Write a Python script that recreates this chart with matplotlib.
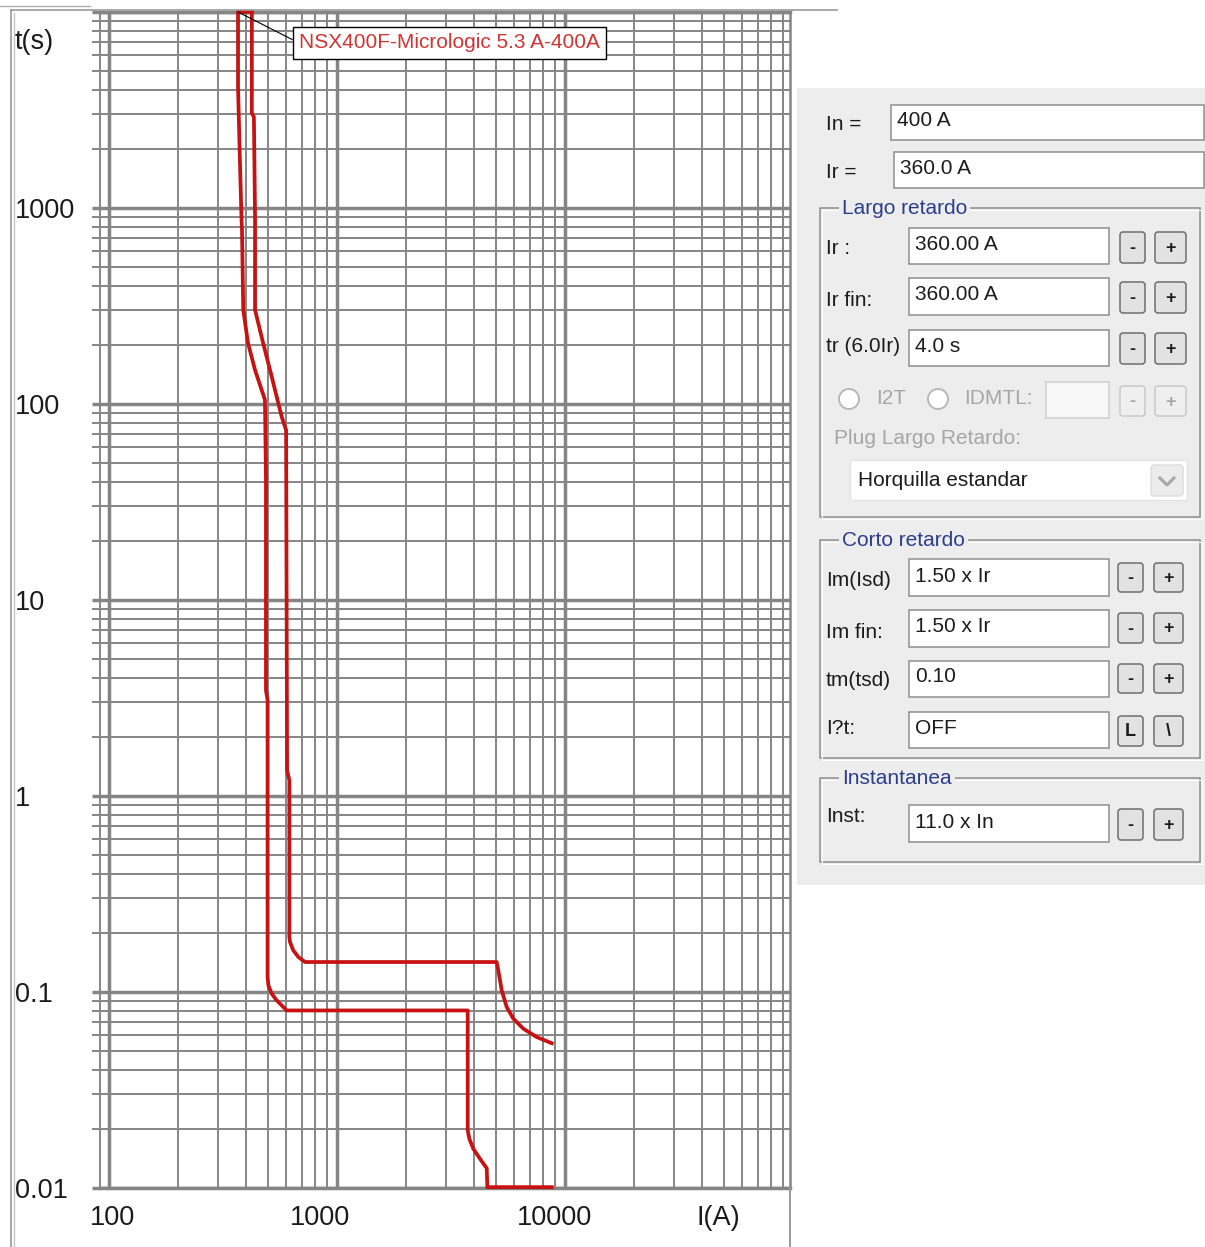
import numpy as np
import matplotlib
matplotlib.use('Agg')
import matplotlib.pyplot as plt
from matplotlib.patches import Rectangle, FancyBboxPatch, Circle
from matplotlib.lines import Line2D
from matplotlib.ticker import FixedLocator, LogLocator, NullFormatter, FixedFormatter
import matplotlib.transforms as mtransforms

plt.rcParams['font.family'] = ['Liberation Sans', 'DejaVu Sans']

# ---------------- data ----------------
curve_label = "NSX400F-Micrologic 5.3 A-400A"

# lower (minimum) tripping curve
lower_I = [368, 368, 375, 381, 383, 388, 407, 437, 483, 488, 488, 496, 496, 500, 517, 544, 602,
           3743, 3743, 3805, 3961, 4239, 4536, 4563, 8744]
lower_t = [10000, 4147, 1758, 899, 772, 302, 205, 149, 105, 40.9, 3.46, 3.08, 0.119, 0.1081,
           0.098, 0.0906, 0.0805, 0.0805, 0.0197, 0.01783, 0.01585, 0.01409, 0.0126, 0.0101, 0.0101]

# upper (maximum) tripping curve
upper_I = [423, 423, 432, 437, 437, 474, 517, 572, 598, 604, 618, 618, 622, 643, 677, 724,
           5016, 5099, 5278, 5551, 5932, 6564, 7513, 8744]
upper_t = [10000, 3054, 2914, 899, 302, 205, 138, 86.0, 73.6, 1.353, 1.203, 0.1907, 0.1798,
           0.1631, 0.1508, 0.1422, 0.1422, 0.1289, 0.1019, 0.0837, 0.0731, 0.0650, 0.0589, 0.0548]

x_ticks = [100, 1000, 10000]
x_tick_labels = ["100", "1000", "10000"]
y_ticks = [0.01, 0.1, 1, 10, 100, 1000, 10000]
y_tick_labels = ["0.01", "0.1", "1", "10", "100", "1000", ""]
x_axis_label = "I(A)"
y_axis_label = "t(s)"

# settings panel texts
top_fields = [("In =", "400 A"), ("Ir =", "360.0 A")]
largo_title = "Largo retardo"
largo_fields = [("Ir :", "360.00 A"), ("Ir fin:", "360.00 A"), ("tr (6.0Ir)", "4.0 s")]
radio_labels = ["I2T", "IDMTL:"]
plug_label = "Plug Largo Retardo:"
plug_value = "Horquilla estandar"
corto_title = "Corto retardo"
corto_fields = [("Im(Isd)", "1.50 x Ir"), ("Im fin:", "1.50 x Ir"), ("tm(tsd)", "0.10"), ("I?t:", "OFF")]
inst_title = "Instantanea"
inst_fields = [("Inst:", "11.0 x In")]

# ---------------- figure ----------------
W, H = 1205, 1247
fig = plt.figure(figsize=(W / 100, H / 100), dpi=100)
fig.patch.set_facecolor('white')

def fx(px):
    return px / W

def fy(py):
    return 1 - py / H

ax = fig.add_axes([fx(100), fy(1188), fx(790) - fx(100), fy(12) - fy(1188)])
ax.set_xscale('log')
ax.set_yscale('log')
ax.set_xlim(91.3, 97000)
ax.set_ylim(0.01, 10000)

GRID = '#858585'
ax.xaxis.set_major_locator(FixedLocator(x_ticks))
ax.xaxis.set_minor_locator(LogLocator(base=10, subs=np.arange(2, 10), numticks=100))
ax.xaxis.set_major_formatter(NullFormatter())
ax.xaxis.set_minor_formatter(NullFormatter())
ax.yaxis.set_major_locator(FixedLocator(y_ticks))
ax.yaxis.set_major_formatter(FixedFormatter(y_tick_labels))
ax.yaxis.set_minor_locator(LogLocator(base=10, subs=np.arange(2, 10), numticks=100))
ax.yaxis.set_minor_formatter(NullFormatter())

ax.grid(which='major', color=GRID, lw=2.5)
ax.grid(which='minor', color=GRID, lw=1.4)
ax.set_axisbelow(True)
ax.tick_params(axis='x', which='both', length=0)
ax.tick_params(axis='y', which='major', length=5.8, width=2.5, color=GRID,
               pad=55.4, labelsize=19.5, labelcolor='#1a1a1a')
ax.tick_params(axis='y', which='minor', length=5.8, width=1.4, color=GRID)
for lab in ax.get_yticklabels():
    lab.set_horizontalalignment('left')
for side, lw in [('left', 1.4), ('right', 1.8), ('top', 2.5), ('bottom', 2.5)]:
    ax.spines[side].set_color(GRID)
    ax.spines[side].set_linewidth(lw)

# x labels placed under their decade lines
xl_offsets = [3, -17, -11]
for v, s, dx in zip(x_ticks, x_tick_labels, xl_offsets):
    tr = mtransforms.blended_transform_factory(ax.transData, ax.transAxes) + \
        mtransforms.ScaledTranslation(dx / 100, -30 / 100, fig.dpi_scale_trans)
    ax.text(v, 0, s, transform=tr, ha='center', va='center', fontsize=19.5,
            color='#1a1a1a', clip_on=False)
ax.text((718 - 100) / 690, 0, x_axis_label,
        transform=ax.transAxes + mtransforms.ScaledTranslation(0, -30 / 100, fig.dpi_scale_trans),
        ha='center', va='center', fontsize=19.5, color='#1a1a1a', clip_on=False)
fig.text(fx(15), fy(42), y_axis_label, ha='left', va='center', fontsize=19.5, color='#1a1a1a')

RED = '#c81212'
ax.plot(lower_I, lower_t, color=RED, lw=2.7, solid_joinstyle='round', zorder=4, clip_on=False)
ax.plot(upper_I, upper_t, color=RED, lw=2.7, solid_joinstyle='round', zorder=4, clip_on=False)
ax.plot([lower_I[0], upper_I[0]], [lower_t[0], upper_t[0]], color=RED, lw=2.7, zorder=4, clip_on=False)

ax.annotate(curve_label, xy=(lower_I[0], lower_t[0]), xycoords='data',
            xytext=((299 - 100) / 690, (1188 - 43) / 1176), textcoords='axes fraction',
            ha='left', va='center', fontsize=15, color='#d03535',
            bbox=dict(boxstyle='square,pad=0.3', fc='white', ec='black', lw=1),
            arrowprops=dict(arrowstyle='-', color='black', lw=0.8, relpos=(0, 0.5),
                            shrinkA=0, shrinkB=0), zorder=6, annotation_clip=False)

# ---------------- overlay (frame + panel) ----------------
ui = fig.add_axes([0, 0, 1, 1])
ui.set_xlim(0, W)
ui.set_ylim(H, 0)
ui.axis('off')
ui.patch.set_alpha(0)

FRAME = '#9a9a9a'
ui.add_line(Line2D([11, 837], [10, 10], color=FRAME, lw=1.2))
ui.add_line(Line2D([0, 90], [6, 6], color='#b0b0b0', lw=1.0))
ui.add_line(Line2D([11, 11], [10, H], color=FRAME, lw=1.2))
ui.add_line(Line2D([14, 14], [13, H], color='#c4c4c4', lw=1.0))
ui.add_line(Line2D([790, 790], [1188, H], color=FRAME, lw=1.4))

BG = '#ededed'
ui.add_patch(Rectangle((797, 88), W - 797, 885 - 88, fc=BG, ec='none'))

TXT = '#1c1c1c'
DIS = '#a6a6a6'
BLUE = '#2c3d8c'
FS = 15

def textbox(x0, y0, x1, y1, enabled=True):
    ui.add_patch(Rectangle((x0, y0), x1 - x0, y1 - y0,
                           fc='white' if enabled else '#f8f8f8',
                           ec='#8f8f8f' if enabled else '#cfcfcf', lw=1.1))

def button(x0, y0, x1, y1, label, enabled=True):
    ui.add_patch(FancyBboxPatch((x0, y0), x1 - x0, y1 - y0,
                                boxstyle='round,pad=0,rounding_size=3',
                                fc='#e2e2e2' if enabled else '#efefef',
                                ec='#6e6e6e' if enabled else '#c9c9c9', lw=1.1))
    ui.text((x0 + x1) / 2, (y0 + y1) / 2 + 1, label, ha='center', va='center',
            fontsize=13, color=TXT if enabled else DIS, fontweight='bold')

def groupbox(x0, y0, x1, y1, title):
    ui.add_patch(Rectangle((x0, y0), x1 - x0, y1 - y0, fc='none', ec='#8d8d8d', lw=1.1))
    ui.add_patch(Rectangle((x0 + 1.5, y0 + 1.5), x1 - x0, y1 - y0, fc='none', ec='white', lw=0.8))
    ui.text(x0 + 22, y0 + 1, title, ha='left', va='center', fontsize=FS, color=BLUE,
            bbox=dict(boxstyle='square,pad=0.15', fc=BG, ec='none'))

# top fields
top_rows = [(105, 140, 124, 121, 897), (152, 188, 172, 168, 900)]
for (lab, val), (y0, y1, ly, vy, vx) in zip(top_fields, top_rows):
    ui.text(826, ly, lab, ha='left', va='center', fontsize=FS, color=TXT)
    textbox(vx - 6, y0, 1204, y1)
    ui.text(vx, vy, val, ha='left', va='center', fontsize=FS, color=TXT)

# Largo retardo
groupbox(820, 208, 1200, 517, largo_title)
largo_rows = [(228, 264, 249, 244, 232, 263), (278, 315, 300, 295, 282, 313),
              (330, 366, 347, 346, 333, 364)]
for (lab, val), (y0, y1, ly, vy, b0, b1) in zip(largo_fields, largo_rows):
    ui.text(826, ly, lab, ha='left', va='center', fontsize=FS, color=TXT)
    textbox(909, y0, 1109, y1)
    ui.text(915, vy, val, ha='left', va='center', fontsize=FS, color=TXT)
    button(1120, b0, 1145, b1, '-')
    button(1155, b0, 1186, b1, '+')

ui.add_patch(Circle((849, 399), 10, fc='white', ec='#b8b8b8', lw=1.4))
ui.add_patch(Circle((938, 399), 10, fc='white', ec='#b8b8b8', lw=1.4))
ui.text(876, 399, radio_labels[0], ha='left', va='center', fontsize=FS, color=DIS)
ui.text(964, 399, radio_labels[1], ha='left', va='center', fontsize=FS, color=DIS)
textbox(1046, 382, 1109, 418, enabled=False)
button(1120, 386, 1145, 416, '-', enabled=False)
button(1155, 386, 1186, 416, '+', enabled=False)
ui.text(834, 439, plug_label, ha='left', va='center', fontsize=FS, color=DIS)

ui.add_patch(Rectangle((850, 460), 1187 - 850, 40, fc='white', ec='#e3e3e3', lw=1))
ui.text(858, 481, plug_value, ha='left', va='center', fontsize=FS, color=TXT)
ui.add_patch(FancyBboxPatch((1151, 465), 32, 31, boxstyle='round,pad=0,rounding_size=3',
                            fc='#ececec', ec='#dcdcdc', lw=1))
ui.add_line(Line2D([1160, 1167, 1174], [478, 485, 478], color='#a8a8a8', lw=2.2))

# Corto retardo
groupbox(820, 540, 1200, 758, corto_title)
corto_rows = [(559, 596, 581, 576, 563, 592), (610, 647, 633, 627, 613, 643),
              (661, 697, 681, 677, 664, 693), (712, 748, 729, 728, 716, 746)]
corto_btns = [('-', '+'), ('-', '+'), ('-', '+'), ('L', '\\')]
for (lab, val), (y0, y1, ly, vy, b0, b1), (bl, br) in zip(corto_fields, corto_rows, corto_btns):
    ui.text(826, ly, lab, ha='left', va='center', fontsize=FS, color=TXT)
    textbox(909, y0, 1109, y1)
    ui.text(915, vy, val, ha='left', va='center', fontsize=FS, color=TXT)
    button(1118, b0, 1143, b1, bl)
    button(1154, b0, 1183, b1, br)

# Instantanea
groupbox(820, 778, 1200, 862, inst_title)
for lab, val in inst_fields:
    ui.text(826, 817, lab, ha='left', va='center', fontsize=FS, color=TXT)
    textbox(909, 805, 1109, 842)
    ui.text(915, 822, val, ha='left', va='center', fontsize=FS, color=TXT)
    button(1118, 809, 1143, 840, '-')
    button(1154, 809, 1183, 840, '+')

fig.savefig('out.png', dpi=100, facecolor='white')
